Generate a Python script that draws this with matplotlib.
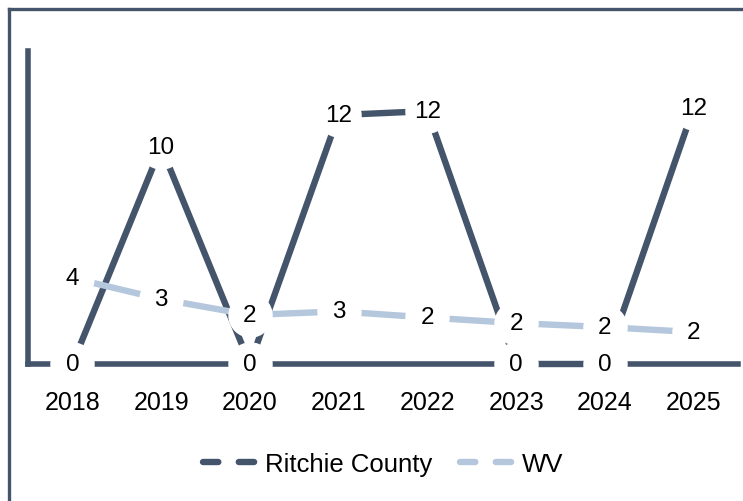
import matplotlib
matplotlib.use("Agg")
import matplotlib.pyplot as plt
from matplotlib.lines import Line2D

years = ["2018", "2019", "2020", "2021", "2022", "2023", "2024", "2025"]
ritchie = [0, 10.4, 0, 11.93, 12.12, 0, 0, 12.27]
wv = [4.12, 3.11, 2.35, 2.52, 2.23, 1.96, 1.77, 1.53]

DARK = "#44546A"
LIGHT = "#B4C7DC"
plt.rcParams['font.family'] = ['Liberation Sans', 'DejaVu Sans']

W, H = 743, 502
fig = plt.figure(figsize=(W / 100, H / 100), dpi=100)
ax = fig.add_axes([28 / W, 1 - 365 / H, (738 - 28) / W, (365 - 52) / H])

x = list(range(len(years)))
ax.set_xlim(-0.5, len(years) - 0.5)
ax.set_ylim(0, 15)

# series lines with white circle markers (label backgrounds)
ax.plot(x, ritchie, color=DARK, lw=4.6, solid_capstyle='butt', zorder=3,
        marker='o', ms=32, mfc='white', mec='none', clip_on=False)
ax.plot(x, wv, color=LIGHT, lw=4.6, solid_capstyle='butt', zorder=4,
        marker='o', ms=32, mfc='white', mec='none', clip_on=False)

for xi, v in zip(x, ritchie):
    ax.text(xi, v, f"{v:.0f}", ha='center', va='center', fontsize=17.5,
            color='black', zorder=6, clip_on=False)
for xi, v in zip(x, wv):
    ax.text(xi, v, f"{v:.0f}", ha='center', va='center', fontsize=17.5,
            color='black', zorder=6, clip_on=False)

for s in ['top', 'right']:
    ax.spines[s].set_visible(False)
for s in ['left', 'bottom']:
    ax.spines[s].set_color(DARK)
    ax.spines[s].set_linewidth(4.0)
    ax.spines[s].set_zorder(1)
    ax.spines[s].set_capstyle('projecting')

ax.set_xticks(x)
ax.set_xticklabels(years, fontsize=18)
ax.tick_params(axis='x', length=0, pad=19)
ax.set_yticks([])

handles = [
    Line2D([0], [0], color=DARK, lw=4.6, dashes=(2.4, 3.2), dash_capstyle='round'),
    Line2D([0], [0], color=LIGHT, lw=4.6, dashes=(2.4, 3.2), dash_capstyle='round'),
]
fig.legend(handles, ["Ritchie County", "WV"], loc='center', ncol=2,
           bbox_to_anchor=(383 / W, 1 - 465 / H), frameon=False, fontsize=18.5,
           handlelength=2.3, handletextpad=0.1, columnspacing=1.1)

# outer frame (left and top edges visible)
fig.add_artist(Line2D([9 / W, 9 / W], [0, 1 - 10 / H], color=DARK, lw=2.4,
                      transform=fig.transFigure, solid_capstyle='projecting'))
fig.add_artist(Line2D([9 / W, 1], [1 - 10 / H, 1 - 10 / H], color=DARK, lw=2.4,
                      transform=fig.transFigure, solid_capstyle='projecting'))

fig.savefig("out.png", dpi=100, facecolor='white')
